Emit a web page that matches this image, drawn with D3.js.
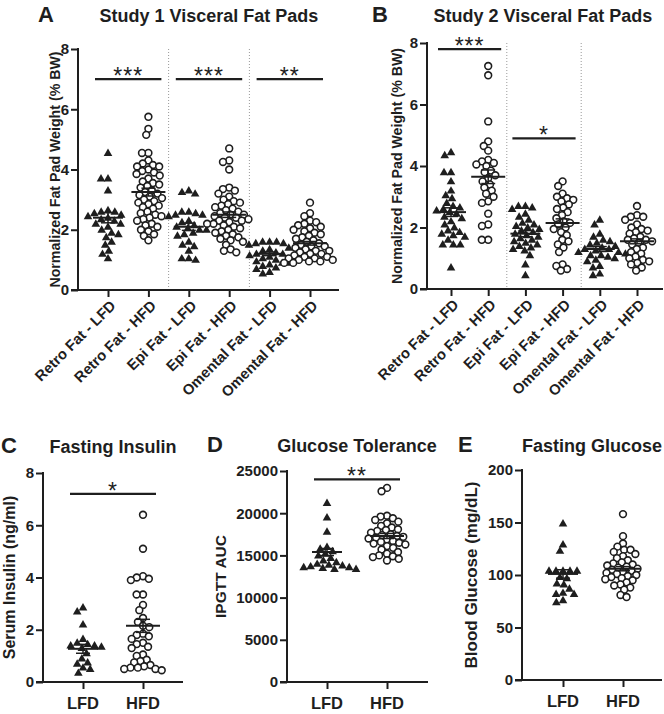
<!DOCTYPE html>
<html><head><meta charset="utf-8">
<script src="https://cdn.jsdelivr.net/npm/d3@7"></script>
<style>
body{margin:0;background:#fff;}
svg{display:block;font-family:"Liberation Sans",Arial,sans-serif;}
</style></head>
<body><svg id="c" width="664" height="714"></svg>
<script>
// ---------------- DATA ----------------
const fatCategories = ["Retro Fat - LFD","Retro Fat - HFD","Epi Fat - LFD","Epi Fat - HFD","Omental Fat - LFD","Omental Fat - HFD"];
const fatTicks = [0,2,4,6,8];

const study1RetroLFD = [4.55,3.7,3.7,3.3,2.65,2.6,2.6,2.55,2.5,2.45,2.4,2.35,2.3,2.2,2.2,2.1,2.0,1.9,1.85,1.75,1.6,1.5,1.3,1.2,1.05];
const study1RetroHFD = [5.75,5.35,5.15,4.55,4.55,4.3,4.2,4.15,4.1,4.1,4.0,3.95,3.9,3.85,3.8,3.7,3.6,3.55,3.5,3.45,3.4,3.3,3.25,3.2,3.15,3.1,3.05,3.0,2.95,2.9,2.85,2.8,2.75,2.7,2.6,2.55,2.5,2.45,2.4,2.35,2.3,2.2,2.15,2.1,2.0,1.95,1.85,1.8,1.65];
const study1EpiLFD = [3.3,3.25,3.2,2.6,2.6,2.55,2.5,2.5,2.45,2.3,2.25,2.15,2.1,2.05,2.0,2.0,1.9,1.85,1.8,1.6,1.5,1.45,1.3,1.05,1.05,1.0];
const study1EpiHFD = [4.7,4.3,4.25,4.0,3.4,3.35,3.3,3.2,3.1,3.0,2.95,2.9,2.85,2.8,2.75,2.7,2.65,2.6,2.55,2.5,2.5,2.45,2.4,2.4,2.35,2.3,2.3,2.25,2.2,2.2,2.15,2.1,2.05,2.0,1.95,1.9,1.85,1.8,1.75,1.7,1.65,1.6,1.5,1.35,1.3,1.25];
const study1OmentalLFD = [1.6,1.6,1.6,1.55,1.55,1.5,1.4,1.35,1.3,1.25,1.2,1.2,1.15,1.1,1.05,1.0,0.95,0.9,0.9,0.85,0.8,0.75,0.7,0.6,0.55];
const study1OmentalHFD = [2.9,2.55,2.45,2.3,2.25,2.2,2.15,2.1,2.05,2.0,1.95,1.9,1.85,1.8,1.75,1.7,1.65,1.6,1.55,1.5,1.45,1.45,1.4,1.35,1.3,1.3,1.25,1.2,1.2,1.15,1.1,1.1,1.05,1.05,1.0,1.0,0.95,0.95,0.9,0.9];
const study1Means = [2.4,3.25,2.1,2.5,1.2,1.55];
const study1Sem = [0.17,0.13,0.12,0.09,0.06,0.06];

const study2RetroLFD = [4.45,4.35,3.8,3.8,3.5,3.2,3.05,2.95,2.8,2.7,2.65,2.6,2.55,2.5,2.45,2.35,2.3,2.2,2.1,2.0,1.9,1.85,1.8,1.75,1.7,1.6,1.45,1.45,1.45,0.7];
const study2RetroHFD = [7.25,6.95,5.45,4.8,4.65,4.5,4.2,4.15,4.1,4.05,4.0,3.85,3.8,3.7,3.6,3.5,3.4,3.3,3.2,3.1,3.0,2.85,2.8,2.45,2.1,2.05,1.6,1.6];
const study2EpiLFD = [2.7,2.7,2.65,2.6,2.45,2.35,2.25,2.15,2.1,2.05,2.0,1.95,1.9,1.85,1.8,1.75,1.7,1.65,1.6,1.55,1.5,1.45,1.4,1.35,1.3,1.25,1.1,0.8,0.45];
const study2EpiHFD = [3.5,3.35,3.1,3.0,2.95,2.9,2.85,2.75,2.65,2.6,2.5,2.4,2.3,2.2,2.15,2.1,2.0,1.95,1.85,1.75,1.6,1.55,1.45,1.35,1.2,0.8,0.75,0.65,0.6];
const study2OmentalLFD = [2.25,2.1,1.8,1.7,1.6,1.55,1.5,1.45,1.4,1.35,1.3,1.3,1.25,1.2,1.2,1.15,1.1,1.1,1.05,1.0,0.95,0.9,0.75,0.7,0.5,0.45];
const study2OmentalHFD = [2.7,2.4,2.35,2.35,2.25,2.1,2.0,1.95,1.9,1.85,1.8,1.7,1.65,1.6,1.6,1.55,1.5,1.45,1.35,1.3,1.2,1.15,1.05,1.0,0.95,0.9,0.85,0.8,0.7,0.6];
const study2Means = [2.5,3.65,1.8,2.15,1.3,1.55];
const study2Sem = [0.14,0.22,0.1,0.13,0.08,0.08];

const dietCategories = ["LFD","HFD"];
const insulinLFD = [2.85,2.7,2.2,1.65,1.5,1.45,1.4,1.4,1.35,1.3,1.1,0.9,0.75,0.7,0.55,0.5,0.35];
const insulinHFD = [6.4,5.1,4.05,4.0,3.95,3.9,3.35,3.35,2.95,2.75,2.45,2.3,2.15,2.1,1.85,1.8,1.75,1.65,1.5,1.45,1.35,1.3,1.05,1.0,0.85,0.8,0.75,0.65,0.6,0.55,0.55,0.5,0.5,0.45];
const insulinMeans = [1.27,2.15];
const insulinSem = [0.17,0.25];
const insulinTicks = [0,2,4,6,8];

const gttLFD = [21200,19500,17800,16000,15800,15500,15200,15000,14700,14400,14200,14000,13900,13800,13700,13600,13600,13500,13400,13400];
const gttHFD = [23000,22600,19700,19600,19400,19200,19000,18800,18500,18300,18100,18000,17900,17700,17500,17400,17300,17200,17100,17000,16900,16700,16600,16500,16400,16300,16100,15900,15700,15400,15200,15000,14900,14800,14600,14400];
const gttMeans = [15400,17300];
const gttSem = [420,300];
const gttTicks = [0,5000,10000,15000,20000,25000];

const glucoseLFD = [149,129,123,104,104,104,104,104,98,97,92,91,87,83,82,82,76,74];
const glucoseHFD = [158,137,130,127,124,124,122,120,118,116,114,112,111,110,109,108,107,106,105,104,103,102,101,100,99,98,97,96,95,93,91,90,88,86,81,79];
const glucoseMeans = [101,106];
const glucoseSem = [4,2];
const glucoseTicks = [0,50,100,150,200];

// ---------------- DRAW ----------------
const svg = d3.select("#c");
const FONT = '"Liberation Sans",Arial,sans-serif';
const INK = "#1e1e1e";

function swarm(vals, y, d){
  const pts = vals.map(v=>({v, py:y(v), x:0})).sort((a,b)=>b.v-a.v);
  const placed=[];
  for(const p of pts){
    const cands=[0];
    for(const q of placed){
      const dy=Math.abs(q.py-p.py);
      if(dy<d){const dx=Math.sqrt(d*d-dy*dy); cands.push(q.x+dx, q.x-dx);}
    }
    cands.sort((a,b)=>Math.abs(a)-Math.abs(b) || a-b);
    for(const c of cands){
      if(placed.every(q=>Math.hypot(q.x-c,q.py-p.py)>=d-1e-6)){p.x=c;break;}
    }
    placed.push(p);
  }
  return placed;
}

function panel(o){
  const g = svg.append("g");
  const y = d3.scaleLinear().domain([0,o.ymax]).range([o.bottom,o.top]);
  const x = d3.scalePoint().domain(o.cats).range(o.xr);
  // axes
  g.append("line").attr("x1",o.left).attr("x2",o.left).attr("y1",o.top-1).attr("y2",o.bottom+1).attr("stroke",INK).attr("stroke-width",2);
  g.append("line").attr("x1",o.left-7).attr("x2",o.right).attr("y1",o.bottom).attr("y2",o.bottom).attr("stroke",INK).attr("stroke-width",2);
  const ya = d3.axisLeft(y).tickValues(o.ticks).tickSize(7).tickFormat(d3.format("d"));
  const yg = g.append("g").attr("transform",`translate(${o.left},0)`).call(ya);
  yg.select(".domain").remove();
  yg.selectAll(".tick line").attr("stroke",INK).attr("stroke-width",2);
  yg.selectAll(".tick text").attr("font-family",FONT).attr("font-size",15).attr("font-weight","bold").attr("fill",INK).attr("x",-9);
  const xa = d3.axisBottom(x).tickSize(7).tickFormat("");
  const xg = g.append("g").attr("transform",`translate(0,${o.bottom})`).call(xa);
  xg.select(".domain").remove();
  xg.selectAll(".tick line").attr("stroke",INK).attr("stroke-width",2);
  // x labels
  if(o.rot){
    o.cats.forEach(c=>{
      g.append("text").attr("transform",`translate(${x(c)+5},${o.bottom+13}) rotate(-45)`)
        .attr("text-anchor","end").attr("dy","0.35em").attr("font-family",FONT).attr("font-weight","bold")
        .attr("font-size",14.8).attr("fill",INK).text(c);
    });
  } else {
    o.cats.forEach(c=>{
      g.append("text").attr("x",x(c)).attr("y",o.bottom+27).attr("text-anchor","middle").attr("font-family",FONT)
        .attr("font-weight","bold").attr("font-size",16.5).attr("fill",INK).text(c);
    });
  }
  // separators
  (o.seps||[]).forEach(i=>{
    const xs=(x(o.cats[i])+x(o.cats[i+1]))/2;
    g.append("line").attr("x1",xs).attr("x2",xs).attr("y1",o.top).attr("y2",o.bottom-1).attr("stroke","#999").attr("stroke-width",1).attr("stroke-dasharray","1,2");
  });
  // y label
  g.append("text").attr("transform",`translate(${o.ylx},${o.yly||(o.top+o.bottom)/2}) rotate(-90)`).attr("text-anchor","middle")
    .attr("font-family",FONT).attr("font-weight","bold").attr("font-size",o.ylfs).attr("fill",INK).text(o.ylabel);
  // title and letter
  g.append("text").attr("x",o.tx).attr("y",o.ty).attr("text-anchor","middle").attr("font-family",FONT).attr("font-weight","bold").attr("font-size",18).attr("fill",INK).text(o.title);
  g.append("text").attr("x",o.lx).attr("y",o.ty).attr("font-family",FONT).attr("font-weight","bold").attr("font-size",22).attr("fill",INK).text(o.letter);
  // points
  o.series.forEach((vals,i)=>{
    const cx = x(o.cats[i]);
    const hfd = i%2===1;
    const pts = swarm(vals,y,hfd?6.4:7.0);
    if(hfd){
      g.selectAll(null).data(pts).enter().append("circle").attr("cx",d=>cx+d.x).attr("cy",d=>d.py).attr("r",3.4)
        .attr("fill","#fff").attr("stroke",INK).attr("stroke-width",1.6);
    } else {
      const sym = d3.symbol().type(d3.symbolTriangle).size(32);
      g.selectAll(null).data(pts).enter().append("path").attr("d",sym).attr("transform",d=>`translate(${cx+d.x},${d.py+0.5})`).attr("fill",INK);
    }
    // mean & SEM
    const m=o.means[i], s=o.sem[i];
    const mw = hfd?17:15, sw=7;
    g.append("line").attr("x1",cx-mw).attr("x2",cx+mw).attr("y1",y(m)).attr("y2",y(m)).attr("stroke",INK).attr("stroke-width",2);
    g.append("line").attr("x1",cx).attr("x2",cx).attr("y1",y(m-s)).attr("y2",y(m+s)).attr("stroke",INK).attr("stroke-width",1.5);
    [m-s,m+s].forEach(v=>g.append("line").attr("x1",cx-sw).attr("x2",cx+sw).attr("y1",y(v)).attr("y2",y(v)).attr("stroke",INK).attr("stroke-width",1.5));
  });
  // significance
  (o.sig||[]).forEach(sg=>{
    const x1=x(o.cats[sg.a])-13, x2=x(o.cats[sg.b])+13;
    g.append("line").attr("x1",x1).attr("x2",x2).attr("y1",y(sg.y)).attr("y2",y(sg.y)).attr("stroke",INK).attr("stroke-width",2.2);
    g.append("text").attr("x",(x1+x2)/2).attr("y",y(sg.y)+5).attr("text-anchor","middle").attr("font-family",FONT)
      .attr("font-size",23).attr("letter-spacing","1px").attr("fill",INK).text(sg.label);
  });
}

panel({cats:fatCategories, ymax:8, ticks:fatTicks, top:49, bottom:290, left:78, right:339, xr:[108,310], rot:true, seps:[1,3],
  ylabel:"Normalized Fat Pad Weight (% BW)", ylx:60, ylfs:14.2, title:"Study 1 Visceral Fat Pads", tx:209, ty:22, letter:"A", lx:38,
  series:[study1RetroLFD,study1RetroHFD,study1EpiLFD,study1EpiHFD,study1OmentalLFD,study1OmentalHFD], means:study1Means, sem:study1Sem,
  sig:[{a:0,b:1,y:7,label:"***"},{a:2,b:3,y:7,label:"***"},{a:4,b:5,y:7,label:"**"}]});

panel({cats:fatCategories, ymax:8, ticks:fatTicks, top:43, bottom:289, left:427, right:663, xr:[451,637], rot:true, seps:[1,3],
  ylabel:"Normalized Fat Pad Weight (% BW)", ylx:402, ylfs:14.2, title:"Study 2 Visceral Fat Pads", tx:543, ty:22, letter:"B", lx:372,
  series:[study2RetroLFD,study2RetroHFD,study2EpiLFD,study2EpiHFD,study2OmentalLFD,study2OmentalHFD], means:study2Means, sem:study2Sem,
  sig:[{a:0,b:1,y:7.8,label:"***"},{a:2,b:3,y:4.9,label:"*"}]});

panel({cats:dietCategories, ymax:8, ticks:insulinTicks, top:473, bottom:682, left:43, right:183, xr:[83,143],
  ylabel:"Serum Insulin (ng/ml)", ylx:15, ylfs:16, title:"Fasting Insulin", tx:113, ty:453, letter:"C", lx:1,
  series:[insulinLFD,insulinHFD], means:insulinMeans, sem:insulinSem, sig:[{a:0,b:1,y:7.2,label:"*"}]});

panel({cats:dietCategories, ymax:25000, ticks:gttTicks, top:471, bottom:682, left:287, right:428, xr:[327,387],
  ylabel:"IPGTT AUC", ylx:226, ylfs:15.5, title:"Glucose Tolerance", tx:357, ty:452, letter:"D", lx:207,
  series:[gttLFD,gttHFD], means:gttMeans, sem:gttSem, sig:[{a:0,b:1,y:24000,label:"**"}]});

panel({cats:dietCategories, ymax:200, ticks:glucoseTicks, top:470, bottom:680, left:522, right:662, xr:[563,623],
  ylabel:"Blood Glucose (mg/dL)", ylx:477, ylfs:17, title:"Fasting Glucose", tx:592, ty:452, letter:"E", lx:458,
  series:[glucoseLFD,glucoseHFD], means:glucoseMeans, sem:glucoseSem, sig:[]});
</script></body></html>
